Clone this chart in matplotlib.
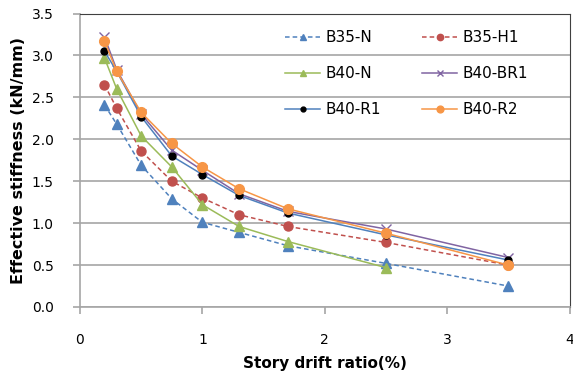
import matplotlib
matplotlib.use("Agg")
import matplotlib.pyplot as plt

plt.rcParams['font.family'] = ['DejaVu Sans']

# drift ratio (%)
drift = [0.2, 0.3, 0.5, 0.75, 1.0, 1.3, 1.7, 2.5, 3.5]

b35_n = [2.41, 2.18, 1.69, 1.29, 1.01, 0.89, 0.73, 0.52, 0.25]
b35_h1 = [2.65, 2.37, 1.86, 1.50, 1.30, 1.10, 0.96, 0.77, 0.50]
b40_n = [2.97, 2.60, 2.04, 1.67, 1.22, 0.96, 0.78, 0.47]
b40_br1 = [3.22, 2.83, 2.30, 1.87, 1.63, 1.35, 1.14, 0.93, 0.59]
b40_r1 = [3.05, 2.81, 2.27, 1.80, 1.58, 1.33, 1.12, 0.86, 0.56]
b40_r2 = [3.17, 2.81, 2.32, 1.95, 1.67, 1.41, 1.17, 0.88, 0.50]

fig = plt.figure(figsize=(5.73, 3.76), dpi=100)
ax = fig.add_axes([80 / 573, 69 / 376, 489.5 / 573, 293.5 / 376])

dash = (3, 2)
l1, = ax.plot(drift, b35_n, '--', dashes=dash, color='#4F81BD', lw=1.1, marker='^', ms=6.5,
              mfc='#4F81BD', mec='#4F81BD', label='B35-N')
l2, = ax.plot(drift, b35_h1, '--', dashes=dash, color='#C0504D', lw=1.1, marker='o', ms=6.5,
              mfc='#C0504D', mec='#C0504D', label='B35-H1')
l3, = ax.plot(drift[:len(b40_n)], b40_n, '-', color='#9BBB59', lw=1.1, marker='^', ms=6.5,
              mfc='#9BBB59', mec='#9BBB59', label='B40-N')
l4, = ax.plot(drift, b40_br1, '-', color='#8064A2', lw=1.1, marker='x', ms=7,
              mew=1.0, label='B40-BR1')
l5, = ax.plot(drift, b40_r1, '-', color='#4F81BD', lw=1.1, marker='o', ms=5,
              mfc='black', mec='black', label='B40-R1')
l6, = ax.plot(drift, b40_r2, '-', color='#F79646', lw=1.1, marker='o', ms=7,
              mfc='#F79646', mec='#F79646', label='B40-R2')

ax.set_xlim(0, 4)
ax.set_ylim(0, 3.5)
ax.set_xticks([0, 1, 2, 3, 4])
ax.set_yticks([0.0, 0.5, 1.0, 1.5, 2.0, 2.5, 3.0, 3.5])
ax.set_yticklabels(['0.0', '0.5', '1.0', '1.5', '2.0', '2.5', '3.0', '3.5'])
ax.yaxis.grid(True, color='#A6A6A6', lw=1.2)
ax.set_axisbelow(True)
ax.spines['left'].set_color('#A6A6A6')
ax.spines['bottom'].set_color('#A6A6A6')
ax.spines['right'].set_color('#404040')
ax.spines['top'].set_color('#404040')
ax.spines['left'].set_linewidth(1.2)
ax.spines['bottom'].set_linewidth(1.2)
ax.tick_params(axis='both', labelsize=10, color='#A6A6A6', width=1.2)
ax.tick_params(axis='x', length=5, pad=14)
ax.tick_params(axis='y', length=5, pad=14)

ax.set_xlabel('Story drift ratio(%)', fontsize=11, fontweight='bold', labelpad=6)
ax.set_ylabel('Effective stiffness (kN/mm)', fontsize=11.5, fontweight='bold', labelpad=4)

# row-wise legend order: reorder for matplotlib's column fill
handles = [l1, l3, l5, l2, l4, l6]
leg = fig.legend(handles=handles, labels=[h.get_label() for h in handles], ncol=2,
                 loc='upper left', bbox_to_anchor=(285 / 573, 1 - 30 / 376), fontsize=11,
                 frameon=False, handlelength=2.3, handletextpad=0.35,
                 columnspacing=2.7, labelspacing=1.38, borderpad=0, borderaxespad=0,
                 markerscale=0.7)

fig.savefig('out.png', dpi=100)
